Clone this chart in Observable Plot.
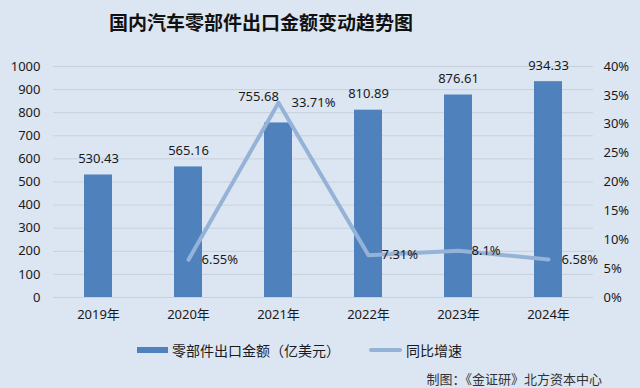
<!DOCTYPE html>
<html>
<head>
<meta charset="utf-8">
<script src="https://cdn.jsdelivr.net/npm/d3@7"></script>
<script src="https://cdn.jsdelivr.net/npm/@observablehq/plot@0.6"></script>
<style>
  html, body { margin: 0; padding: 0; }
  #wrap { position: relative; width: 640px; height: 388px; background: #dce6f2; overflow: hidden;
          font-family: "Noto Sans CJK SC", "Noto Sans", sans-serif; color: #1a1a1a; }
  #title { position: absolute; left: 0; top: 8px; width: 522px; text-align: center;
           font-size: 19px; font-weight: 700; line-height: 28px; color: #111; }
  #chart { position: absolute; left: 0; top: 44px; }
  .leg { position: absolute; top: 340px; font-size: 14px; line-height: 20px; display: flex; align-items: center; }
  .sw { display: inline-block; margin-right: 4px; }
  #caption { position: absolute; right: 38px; top: 369px; font-size: 13px; line-height: 20px; color: #333; }
</style>
</head>
<body>
<div id="wrap">
  <div id="title">国内汽车零部件出口金额变动趋势图</div>
  <div id="chart"></div>
  <div class="leg" style="left:137px"><span class="sw" style="width:31px;height:6px;background:#4f81bd"></span>零部件出口金额（亿美元）</div>
  <div class="leg" style="left:369px"><span class="sw" style="width:33px;height:4px;background:#95b3d7;border-radius:2px"></span>同比增速</div>
  <div id="caption">制图：《金证研》北方资本中心</div>
</div>
<script>
const years = ["2019", "2020", "2021", "2022", "2023", "2024"];
const exportValues = [530.43, 565.16, 755.68, 810.89, 876.61, 934.33];
const growthPct = [null, 6.55, 33.71, 7.31, 8.1, 6.58];
const valueTicks = [0, 100, 200, 300, 400, 500, 600, 700, 800, 900, 1000];
const pctTicks = [0, 5, 10, 15, 20, 25, 30, 35, 40];

const pctScale = 1000 / 40; // right axis 0–40% shares the 0–1000 range

const bars = years.map((y, i) => ({year: y, value: exportValues[i]}));
const growth = years.map((y, i) => ({year: y, pct: growthPct[i]})).filter(d => d.pct != null);

// the 2021 value label is nudged up-left in the original to clear the line
const normalBars = bars.filter(d => d.year !== "2021");
const movedBars = bars.filter(d => d.year === "2021");

const chart = Plot.plot({
  width: 640,
  height: 290,
  marginTop: 22,
  marginBottom: 37,
  marginLeft: 53,
  marginRight: 47,
  style: {background: "transparent", fontSize: "13px", fontFamily: "'Noto Sans', 'Noto Sans CJK SC', sans-serif", color: "#1a1a1a"},
  x: {domain: years, paddingInner: 0.69, paddingOuter: 0.345, label: null},
  y: {domain: [0, 1000], label: null},
  marks: [
    Plot.gridY(valueTicks, {stroke: "#c8d0da", strokeOpacity: 1}),
    Plot.axisY(valueTicks, {anchor: "left", tickSize: 0, tickPadding: 13, label: null, tickFormat: d => String(d), fill: "#1a1a1a"}),
    Plot.axisY(pctTicks.map(p => p * pctScale), {anchor: "right", tickSize: 0, tickPadding: 10, label: null,
      tickFormat: d => Math.round(d / pctScale) + "%", fill: "#1a1a1a"}),
    Plot.axisX({tickSize: 0, tickPadding: 12, label: null, tickFormat: d => d + "年", fill: "#1a1a1a"}),
    Plot.barY(bars, {x: "year", y: "value", fill: "#4f81bd"}),
    Plot.text(normalBars, {x: "year", y: "value", text: d => d.value.toFixed(2), dy: -16, fill: "#1a1a1a"}),
    Plot.text(movedBars, {x: "year", y: "value", text: d => d.value.toFixed(2), dy: -26, dx: -20, fill: "#1a1a1a"}),
    Plot.line(growth, {x: "year", y: d => d.pct * pctScale, stroke: "#95b3d7", strokeWidth: 4}),
    Plot.text(growth, {x: "year", y: d => d.pct * pctScale, text: d => d.pct + "%", dx: 13, textAnchor: "start", fill: "#1a1a1a"})
  ]
});
document.getElementById("chart").appendChild(chart);
</script>
</body>
</html>
